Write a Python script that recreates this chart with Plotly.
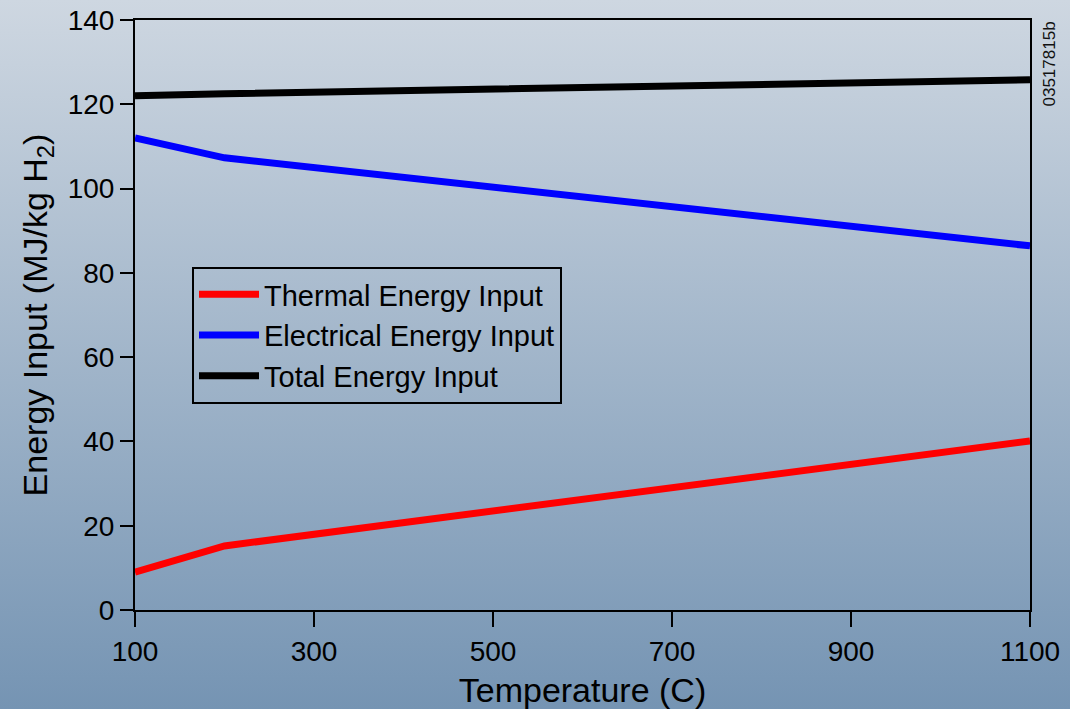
import base64
import plotly.graph_objects as go

# Data
temperature = [100, 200, 1100]
thermal = [9.0, 15.2, 40.1]
electrical = [112.0, 107.3, 86.4]
total = [122.0, 122.5, 125.8]

x_ticks = [100, 300, 500, 700, 900, 1100]
y_ticks = [0, 20, 40, 60, 80, 100, 120, 140]

W, H = 1070, 709
L, R, T, B = 135, 40, 20, 99
PW, PH = W - L - R, H - T - B

FONT = "Liberation Sans, Arial, Helvetica, sans-serif"

svg = (
    "<svg xmlns='http://www.w3.org/2000/svg' width='1070' height='709' preserveAspectRatio='none'>"
    "<defs><linearGradient id='g' x1='0' y1='0' x2='0' y2='1'>"
    "<stop offset='0' stop-color='#ced7e1'/><stop offset='1' stop-color='#7594b3'/>"
    "</linearGradient></defs><rect width='1070' height='709' fill='url(#g)'/></svg>"
)
bg_src = "data:image/svg+xml;base64," + base64.b64encode(svg.encode()).decode()

fig = go.Figure()
for name, vals, col in [
    ("Thermal Energy Input", thermal, "#ff0000"),
    ("Electrical Energy Input", electrical, "#0000ff"),
    ("Total Energy Input", total, "#000000"),
]:
    fig.add_trace(go.Scatter(x=temperature, y=vals, mode="lines", name=name,
                             line=dict(color=col, width=7), cliponaxis=False))

fig.update_layout(
    width=W, height=H,
    margin=dict(l=L, r=R, t=T, b=B, autoexpand=False),
    paper_bgcolor="#a3b5c8",
    plot_bgcolor="rgba(0,0,0,0)",
    font=dict(family=FONT, color="black"),
    images=[dict(source=bg_src, xref="paper", yref="paper",
                 x=-L / PW, y=1 + T / PH, sizex=W / PW, sizey=H / PH,
                 xanchor="left", yanchor="top", sizing="stretch", layer="below")],
    showlegend=True,
    legend=dict(x=(192 - L) / PW, y=(610 - 267) / PH, xanchor="left", yanchor="top",
                bgcolor="rgba(0,0,0,0)", bordercolor="black", borderwidth=2,
                font=dict(size=29, family=FONT, color="black"),
                itemwidth=60, tracegroupgap=0),
    xaxis=dict(range=[100, 1100], tickvals=x_ticks, ticktext=[str(v) for v in x_ticks],
               showgrid=False, zeroline=False, showline=True, linecolor="black", linewidth=2,
               mirror=True, ticks="outside", ticklen=15, tickwidth=2, tickcolor="black",
               tickfont=dict(size=28, family=FONT, color="black"),
               title=dict(text="Temperature (C)", font=dict(size=34, family=FONT, color="black"),
                          standoff=16),
               automargin=False),
    yaxis=dict(range=[0, 140], tickvals=y_ticks, ticktext=[str(v) for v in y_ticks],
               showgrid=False, zeroline=False, showline=True, linecolor="black", linewidth=2,
               mirror=True, ticks="outside", ticklen=13, tickwidth=2, tickcolor="black",
               tickfont=dict(size=28, family=FONT, color="black"),
               title=dict(text="Energy Input (MJ/kg H<sub>2</sub>)",
                          font=dict(size=34, family=FONT, color="black"), standoff=10),
               automargin=False),
    annotations=[dict(text="03517815b", xref="paper", yref="paper",
                      x=(1049 - L) / PW, y=1.0, xanchor="center", yanchor="top",
                      textangle=-90, showarrow=False,
                      font=dict(size=17, family=FONT, color="#111111"))],
)

fig.write_html("out.html")
